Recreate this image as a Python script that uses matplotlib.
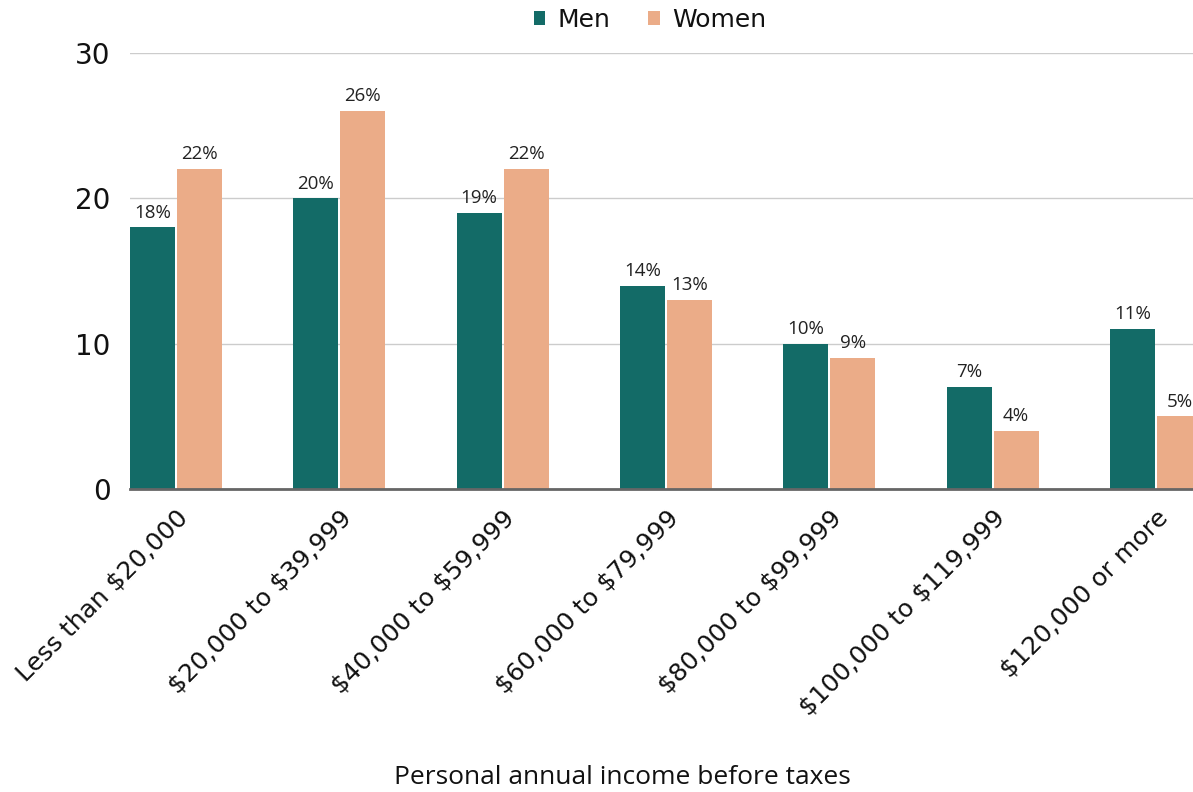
import matplotlib
matplotlib.use("Agg")
import matplotlib.pyplot as plt
import numpy as np

plt.rcParams["text.parse_math"] = False

categories = ["Less than $20,000", "$20,000 to $39,999", "$40,000 to $59,999",
              "$60,000 to $79,999", "$80,000 to $99,999", "$100,000 to $119,999",
              "$120,000 or more"]
men = [18, 20, 19, 14, 10, 7, 11]
women = [22, 26, 22, 13, 9, 4, 5]
series_names = ["Men", "Women"]
yticks = [0, 10, 20, 30]

c_men = "#136B67"
c_women = "#EBAC88"

fig = plt.figure(figsize=(11.93, 7.92), dpi=100)
ax = fig.add_axes([130/1193, 1-489/792, 1-130/1193, (489-53)/792])

x = np.arange(len(categories))
w = 0.276
gap = 0.006
b1 = ax.bar(x - w/2 - gap, men, width=w, color=c_men, label=series_names[0], zorder=3)
b2 = ax.bar(x + w/2 + gap, women, width=w, color=c_women, label=series_names[1], zorder=3)

for bars, vals in ((b1, men), (b2, women)):
    for r, v in zip(bars, vals):
        ax.text(r.get_x() + r.get_width()/2, v + 0.4, f"{v}%", ha="center", va="bottom",
                fontsize=13.5, family="Open Sans", color="#222222", zorder=4)

ax.set_xlim(-0.282, 6.227)
ax.set_ylim(0, 30)
ax.set_yticks(yticks)
ax.set_yticklabels([str(t) for t in yticks], fontsize=20, family="DejaVu Sans", color="#111111")
ax.yaxis.grid(True, color="#cccccc", linewidth=1, zorder=0)
ax.tick_params(axis="y", length=0, pad=14)
ax.tick_params(axis="x", length=0, pad=12)
ax.set_xticks(x)
ax.set_xticklabels(categories, rotation=45, ha="right", va="top", rotation_mode="anchor",
                   fontsize=18, family="DejaVu Sans", color="#111111")
for s in ["top", "right", "left"]:
    ax.spines[s].set_visible(False)
ax.spines["bottom"].set_color("#666666")
ax.spines["bottom"].set_linewidth(2)
ax.spines["bottom"].set_zorder(5)

fig.text(0.522, 1-778/792, "Personal annual income before taxes", ha="center", va="center",
         fontsize=19, family="Open Sans", color="#111111")

leg = fig.legend(handles=[b1, b2], labels=series_names, loc="center", bbox_to_anchor=(0.545, 1-20/792),
                 ncol=2, frameon=False, fontsize=18, handlelength=0.45, handleheight=0.45,
                 handletextpad=0.5, columnspacing=1.5)
for t in leg.get_texts():
    t.set_color("#111111")

fig.savefig("out.png", dpi=100)
